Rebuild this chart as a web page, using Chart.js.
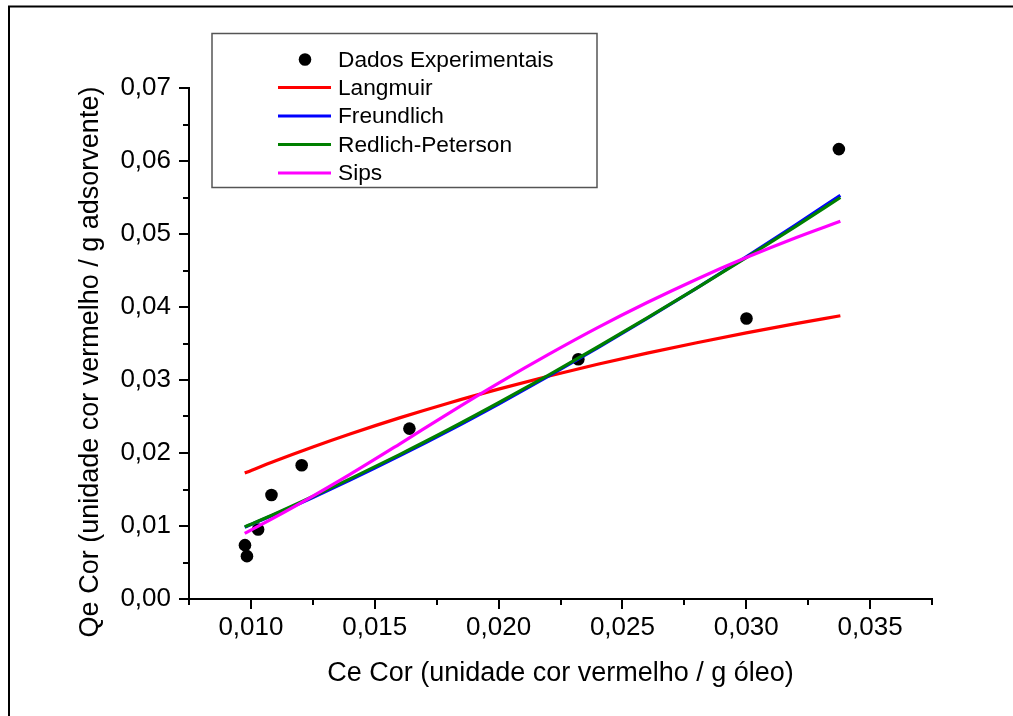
<!DOCTYPE html>
<html>
<head>
<meta charset="utf-8">
<script src="https://cdn.jsdelivr.net/npm/chart.js@4/dist/chart.umd.min.js"></script>
<style>
html,body{margin:0;padding:0;background:#fff;}
#wrap{width:1013px;height:716px;position:relative;}
canvas{display:block;}
</style>
</head>
<body>
<div id="wrap"><canvas id="c" width="1013" height="716"></canvas></div>
<script>
// ---- data ----
const seriesNames = ["Dados Experimentais", "Langmuir", "Freundlich", "Redlich-Peterson", "Sips"];
const seriesColors = ["#000000", "#ff0000", "#0000ff", "#008000", "#ff00ff"];

const expC = [0.00976, 0.00984, 0.01029, 0.01083, 0.01205, 0.01640, 0.02322, 0.03001, 0.03374];
const expQ = [0.00738, 0.00587, 0.00953, 0.01424, 0.01832, 0.02334, 0.03285, 0.03842, 0.06163];

const fitC = [0.00975, 0.011, 0.0125, 0.014, 0.016, 0.018, 0.020, 0.022, 0.024, 0.026, 0.028, 0.030, 0.032, 0.0338];
const langmuirQ    = [0.01725, 0.01893, 0.02082, 0.02260, 0.02481, 0.02686, 0.02875, 0.03051, 0.03215, 0.03368, 0.03511, 0.03646, 0.03772, 0.03880];
const freundlichQ  = [0.00984, 0.01165, 0.01391, 0.01628, 0.01960, 0.02307, 0.02671, 0.03049, 0.03440, 0.03843, 0.04259, 0.04687, 0.05127, 0.05530];
const redlichQ     = [0.00988, 0.01172, 0.01405, 0.01645, 0.01978, 0.02325, 0.02688, 0.03064, 0.03452, 0.03851, 0.04259, 0.04677, 0.05104, 0.05500];
const sipsQ        = [0.00900, 0.01125, 0.01410, 0.01707, 0.02123, 0.02547, 0.02957, 0.03347, 0.03717, 0.04061, 0.04381, 0.04677, 0.04949, 0.05174];

const xTicks = [0.010, 0.015, 0.020, 0.025, 0.030, 0.035];
const xMinorTicks = [0.0075, 0.0125, 0.0175, 0.0225, 0.0275, 0.0325, 0.0375];
const yTicks = [0.00, 0.01, 0.02, 0.03, 0.04, 0.05, 0.06, 0.07];
const yMinorTicks = [0.005, 0.015, 0.025, 0.035, 0.045, 0.055, 0.065];
const xRange = [0.0075, 0.0375];
const yRange = [0, 0.07];
const xTitle = "Ce Cor (unidade cor vermelho / g óleo)";
const yTitle = "Qe Cor (unidade cor vermelho / g adsorvente)";

// ---- chart ----
const FONT = '"Liberation Sans", Arial, Helvetica, sans-serif';
Chart.defaults.font.family = FONT;
Chart.defaults.color = '#000';

const toPts = (xs, ys) => xs.map((x, i) => ({x: x, y: ys[i]}));
const fitSets = [langmuirQ, freundlichQ, redlichQ, sipsQ];

const datasets = [{
  label: seriesNames[0],
  data: toPts(expC, expQ),
  showLine: false,
  pointRadius: 6.3,
  pointHoverRadius: 6.3,
  pointBackgroundColor: seriesColors[0],
  pointBorderColor: seriesColors[0],
  pointBorderWidth: 0,
  order: 5
}];
fitSets.forEach((q, i) => {
  datasets.push({
    label: seriesNames[i + 1],
    data: toPts(fitC, q),
    showLine: true,
    borderColor: seriesColors[i + 1],
    backgroundColor: seriesColors[i + 1],
    borderWidth: 3.2,
    pointRadius: 0,
    cubicInterpolationMode: 'monotone',
    order: 4 - i
  });
});

const decor = {
  id: 'decor',
  beforeDraw(chart) {
    const c = chart.ctx;
    c.save();
    c.fillStyle = '#fff';
    c.fillRect(0, 0, chart.width, chart.height);
    c.restore();
  },
  afterDraw(chart) {
    const c = chart.ctx;
    const xs = chart.scales.x, ys = chart.scales.y;
    const ca = chart.chartArea;
    c.save();
    // outer frame
    c.strokeStyle = '#000';
    c.lineWidth = 2;
    c.strokeRect(9, 6.5, 2000, 2000);
    // minor ticks
    c.lineWidth = 2;
    c.beginPath();
    xMinorTicks.forEach(v => {
      const px = Math.round(xs.getPixelForValue(v));
      c.moveTo(px, ca.bottom); c.lineTo(px, ca.bottom + 6);
    });
    yMinorTicks.forEach(v => {
      const py = Math.round(ys.getPixelForValue(v));
      c.moveTo(ca.left, py); c.lineTo(ca.left - 6, py);
    });
    c.stroke();
    // y axis title
    c.fillStyle = '#000';
    c.font = '27px ' + FONT;
    c.textAlign = 'center';
    c.textBaseline = 'middle';
    c.translate(91, 362);
    c.rotate(-Math.PI / 2);
    c.fillText(yTitle, 0, 0);
    c.restore();

    // legend box
    c.save();
    const bx = 212, by = 33.5, bw = 385, bh = 154;
    c.strokeStyle = '#555';
    c.lineWidth = 1.5;
    c.fillStyle = '#fff';
    c.fillRect(bx, by, bw, bh);
    c.strokeRect(bx, by, bw, bh);
    const rows = [59.5, 87.5, 116, 144.5, 173];
    c.font = '22.7px ' + FONT;
    c.textAlign = 'left';
    c.textBaseline = 'middle';
    chart.data.datasets.forEach((ds, i) => {
      const y = rows[i];
      if (i === 0) {
        c.fillStyle = ds.pointBackgroundColor;
        c.beginPath();
        c.arc(305, y, 6.3, 0, Math.PI * 2);
        c.fill();
      } else {
        c.strokeStyle = ds.borderColor;
        c.lineWidth = 3.2;
        c.beginPath();
        c.moveTo(278, y); c.lineTo(331, y);
        c.stroke();
      }
      c.fillStyle = '#000';
      c.fillText(ds.label, 338, y + 1);
    });
    c.restore();
  }
};

new Chart(document.getElementById('c'), {
  type: 'scatter',
  data: {datasets: datasets},
  plugins: [decor],
  options: {
    responsive: false,
    animation: false,
    devicePixelRatio: 1,
    layout: {padding: {top: 88, right: 81, left: 0, bottom: 0}},
    plugins: {legend: {display: false}, tooltip: {enabled: false}},
    scales: {
      x: {
        type: 'linear',
        min: xRange[0], max: xRange[1],
        afterBuildTicks: s => { s.ticks = xTicks.map(v => ({value: v})); },
        afterFit: s => { s.height = 117; },
        ticks: {
          font: {size: 26},
          color: '#000',
          padding: 3,
          maxRotation: 0,
          callback: v => Number(v).toFixed(3).replace('.', ',')
        },
        grid: {display: true, drawOnChartArea: false, drawTicks: true, tickLength: 10, color: '#000', lineWidth: 2},
        border: {display: true, color: '#000', width: 2},
        title: {display: true, text: xTitle, font: {size: 27}, color: '#000', padding: {top: 0, bottom: 26}}
      },
      y: {
        type: 'linear',
        min: yRange[0], max: yRange[1],
        afterBuildTicks: s => { s.ticks = yTicks.map(v => ({value: v})); },
        afterFit: s => { s.width = 189; },
        ticks: {
          font: {size: 26},
          color: '#000',
          padding: 8,
          callback: v => Number(v).toFixed(2).replace('.', ',')
        },
        grid: {display: true, drawOnChartArea: false, drawTicks: true, tickLength: 10, color: '#000', lineWidth: 2},
        border: {display: true, color: '#000', width: 2}
      }
    }
  }
});
</script>
</body>
</html>
